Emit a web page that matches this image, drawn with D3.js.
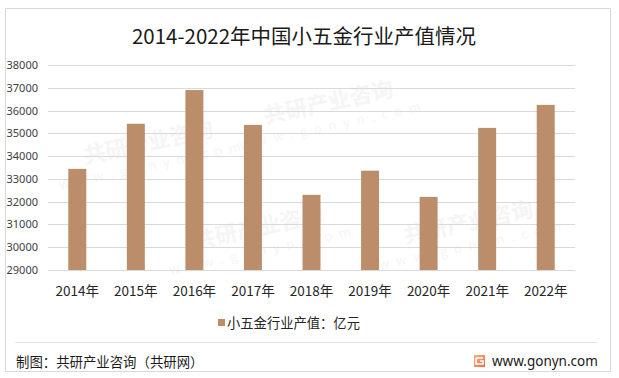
<!DOCTYPE html>
<html><head><meta charset="utf-8">
<script src="https://cdn.jsdelivr.net/npm/d3@7"></script>
<style>
html,body{margin:0;padding:0;background:#fff;}
svg{display:block;}
text{font-family:"Noto Sans CJK SC","Noto Sans",sans-serif;}
</style></head>
<body>
<svg id="chart" width="619" height="378"></svg>
<script>
const categories = ["2014年","2015年","2016年","2017年","2018年","2019年","2020年","2021年","2022年"];
const values = [33440, 35420, 36900, 35370, 32300, 33360, 32210, 35240, 36250];
const yTicks = [29000,30000,31000,32000,33000,34000,35000,36000,37000,38000];
const seriesName = "小五金行业产值：亿元";
const titleText = "2014-2022年中国小五金行业产值情况";
const sourceText = "制图：共研产业咨询（共研网）";
const siteText = "www.gonyn.com";

const svg = d3.select("#chart");

// frame
svg.append("rect").attr("x",5.5).attr("y",8.5).attr("width",605).attr("height",363)
  .attr("fill","#fff").attr("stroke","#d9d9d9").attr("stroke-width",1);

// faint watermarks, kept fully inside the frame
const wm = svg.append("g").attr("fill","#f5f5f5");
const wmPos = [[150,150],[330,110],[260,235],[470,230]];
wmPos.forEach(([x,y])=>{
  const g = wm.append("g").attr("transform",`translate(${x},${y}) rotate(-12)`);
  g.append("text").attr("font-size",22).attr("font-weight","bold").attr("text-anchor","middle").text("共研产业咨询");
  g.append("text").attr("y",20).attr("font-size",13).attr("letter-spacing",7).attr("text-anchor","middle").text("www.gonyn.com");
});

const x = d3.scaleBand().domain(categories).range([48,575]).paddingInner(0.693).paddingOuter(0.3465);
const y = d3.scaleLinear().domain([29000,38000]).range([270,65]);

// grid
svg.append("g").selectAll("line").data(yTicks).join("line")
  .attr("x1",48).attr("x2",575)
  .attr("y1",d=>Math.round(y(d))+0.5).attr("y2",d=>Math.round(y(d))+0.5)
  .attr("stroke","#d9d9d9").attr("stroke-width",1);

// y axis labels
const yAxis = d3.axisLeft(y).tickValues(yTicks).tickSize(0).tickPadding(0).tickFormat(d3.format("d"));
const gy = svg.append("g").attr("transform","translate(38,0)").call(yAxis);
gy.select(".domain").remove();
gy.selectAll("text").attr("font-size",11).attr("fill","#404040")
  .style("font-family","'Noto Sans','DejaVu Sans',sans-serif");

// bars
svg.append("g").selectAll("rect").data(values).join("rect")
  .attr("x",(d,i)=>x(categories[i]))
  .attr("width",x.bandwidth())
  .attr("y",d=>y(d))
  .attr("height",d=>y(29000)-y(d))
  .attr("fill","#bb8d6b");

// x axis labels
const xAxis = d3.axisBottom(x).tickSize(0).tickPadding(0);
const gx = svg.append("g").attr("transform","translate(0,286.5)").call(xAxis);
gx.select(".domain").remove();
gx.selectAll("text").attr("font-size",13.5).attr("fill","#262626")
  .style("font-family","'Noto Sans CJK SC',sans-serif");

// title
svg.append("text").attr("x",304).attr("y",44).attr("text-anchor","middle")
  .attr("font-size",20.5).attr("fill","#1a1a1a").text(titleText);

// legend
svg.append("rect").attr("x",218).attr("y",319).attr("width",7).attr("height",7).attr("fill","#bb8d6b");
svg.append("text").attr("x",227).attr("y",327.5).attr("font-size",13.3).attr("fill","#262626").text(seriesName);

// footer
svg.append("line").attr("x1",15).attr("x2",597).attr("y1",342.5).attr("y2",342.5).attr("stroke","#e3e3e3");
svg.append("text").attr("x",16).attr("y",366.5).attr("font-size",13.4).attr("fill","#1a1a1a").text(sourceText);

const defs = svg.append("defs");
const grad = defs.append("linearGradient").attr("id","ig").attr("x1",0).attr("y1",0).attr("x2",1).attr("y2",1);
grad.append("stop").attr("offset","0").attr("stop-color","#f7b27a");
grad.append("stop").attr("offset","1").attr("stop-color","#ef6d4f");
const ic = svg.append("g").attr("transform","translate(474,355)");
ic.append("rect").attr("width",11).attr("height",12).attr("fill","url(#ig)");
ic.append("path").attr("d","M2,3 H9 M2,3 V9 H9 V6 H6").attr("stroke","#fff").attr("stroke-width",1.6).attr("fill","none");
svg.append("text").attr("x",492).attr("y",366).attr("font-size",13.5).attr("fill","#1a1a1a")
  .style("font-family","'Noto Sans','Open Sans',sans-serif").text(siteText);
</script>
</body></html>
